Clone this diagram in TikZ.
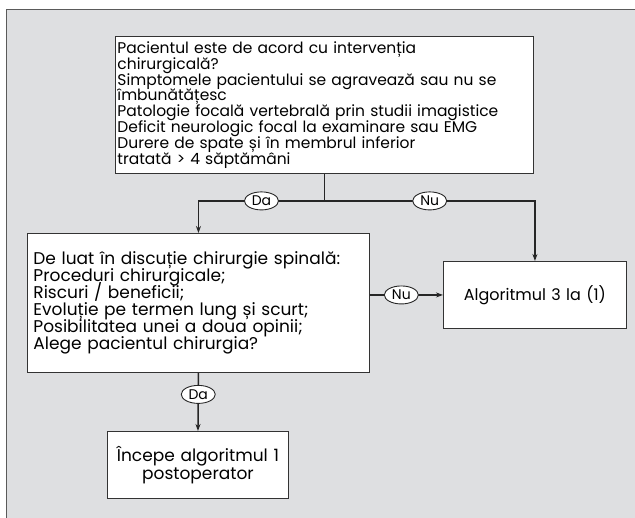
\documentclass[tikz,border=0pt]{standalone}
\usepackage{fontspec}
\setmainfont{Poppins}
\usetikzlibrary{shapes.geometric,arrows.meta}
\definecolor{panelgray}{RGB}{222,223,225}
\definecolor{framegray}{RGB}{90,90,90}
\newcommand\tightlines{\lineskiplimit=-20pt\lineskip=0pt\relax}

\begin{document}
\begin{tikzpicture}[x=1pt,y=-1pt,
stepbox/.style={rectangle, draw=black!80, fill=white, line width=0.9pt, anchor=north west, inner sep=2pt, font=\fontsize{17}{17}\selectfont\tightlines},
answer/.style={ellipse, draw=black!85, fill=white, line width=0.9pt, inner sep=0.4pt, minimum width=34pt, minimum height=18pt, font=\fontsize{14}{14}\selectfont},
flow/.style={line width=1.5pt, draw=black!85, -{Stealth[length=7pt,width=5pt]}},
]
\useasboundingbox (0,0) rectangle (635,518);
\fill[panelgray] (6,10) rectangle (635,518);
\draw[framegray, line width=1pt] (6,518) -- (6,10) -- (635,10);

%Nodes
\node[stepbox, text width=414pt, minimum height=137pt, align=left, font=\fontsize{15.5}{15.8}\selectfont\tightlines] (criteria) at (115,36)
  {Pacientul este de acord cu intervenția\\chirurgicală?\\Simptomele pacientului se agravează sau nu se\\îmbunătățesc\\Patologie focală vertebrală prin studii imagistice\\Deficit neurologic focal la examinare sau EMG\\Durere de spate și în membrul inferior\\tratată > 4 săptămâni};
\node[stepbox, text width=330pt, minimum height=139pt, align=left, inner xsep=6pt] (discuss) at (27,233)
  {De luat în discuție chirurgie spinală:\\Proceduri chirurgicale;\\Riscuri / beneficii;\\Evoluție pe termen lung și scurt;\\Posibilitatea unei a doua opinii;\\Alege pacientul chirurgia?\\[14pt]};
\node[stepbox, text width=179pt, minimum height=67pt, align=center, font=\fontsize{16}{17}\selectfont] (alg3) at (443,261)
  {Algoritmul 3 la (1)};
\node[stepbox, text width=177pt, minimum height=67pt, align=center, font=\fontsize{17}{18}\selectfont\tightlines] (postop) at (107,431)
  {Începe algoritmul 1\\postoperator};

%Lines
\draw[line width=1.5pt, draw=black!85] (criteria.south) -- ++(0,27) coordinate (split);
\draw[flow] (split) -| node[answer, pos=0.25] {Da} (discuss.north);
\draw[flow] (split) -| node[answer, pos=0.25] {Nu} (alg3.north);
\draw[flow] (alg3.west -| discuss.east) -- node[answer, pos=0.43] {Nu} (alg3.west);
\draw[flow] (discuss.south) -- node[answer, pos=0.37] {Da} (postop.north);
\end{tikzpicture}
\end{document}
